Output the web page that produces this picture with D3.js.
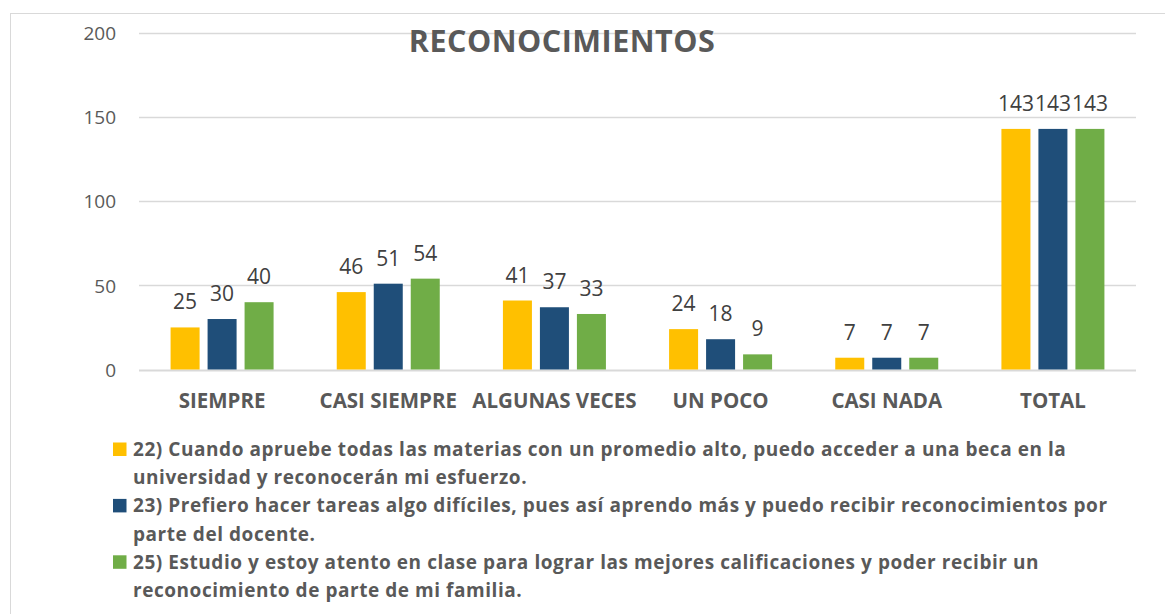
<!DOCTYPE html>
<html><head><meta charset="utf-8">
<script src="https://cdn.jsdelivr.net/npm/d3@7"></script>
<style>html,body{margin:0;padding:0;background:#fff;}svg{display:block;}</style>
</head><body>
<svg id="c" width="1165" height="614"></svg>
<script>
const categories = ["SIEMPRE","CASI SIEMPRE","ALGUNAS VECES","UN POCO","CASI NADA","TOTAL"];
const seriesNames = [
  "22) Cuando apruebe todas las materias con un promedio alto, puedo acceder a una beca en la|universidad y reconocerán mi esfuerzo.",
  "23) Prefiero hacer tareas algo difíciles, pues así aprendo más y puedo recibir reconocimientos por|parte del docente.",
  "25) Estudio y estoy atento en clase para lograr las mejores calificaciones y poder recibir un|reconocimiento de parte de mi familia."
];
const s22 = [25,46,41,24,7,143];
const s23 = [30,51,37,18,7,143];
const s25 = [40,54,33,9,7,143];
const yTicks = [0,50,100,150,200];
const colors = ["#FFC000","#1F4E79","#70AD47"];
const series = [s22,s23,s25];
const title = "RECONOCIMIENTOS";

const svg = d3.select("#c");
const font = "'Open Sans', sans-serif";
svg.append("rect").attr("x",10.5).attr("y",13.5).attr("width",1170).attr("height",620)
  .attr("fill","none").attr("stroke","#d9d9d9");

const x0 = d3.scaleBand().domain(categories).range([139,1136]);
const keys = [0,1,2];
const x1 = d3.scaleBand().domain(keys).range([0,103]).paddingInner(0.216);
const y = d3.scaleLinear().domain([0,200]).range([369.5,33]);
const off = (x0.bandwidth()-103)/2;

// gridlines
svg.append("g").selectAll("line").data(yTicks).join("line")
  .attr("x1",139).attr("x2",1136).attr("y1",d=>Math.round(y(d))+0.5).attr("y2",d=>Math.round(y(d))+0.5)
  .attr("stroke","#d9d9d9").attr("stroke-width",d=>d===0?2:1.5);

// y axis labels
const yAxis = d3.axisLeft(y).tickValues(yTicks).tickSize(0).tickPadding(0);
const ga = svg.append("g").attr("transform","translate(116,0)").call(yAxis);
ga.select(".domain").remove();
ga.selectAll("text").attr("font-family",font).attr("font-size",19).attr("fill","#595959").attr("dy","0.35em");

// title
svg.append("text").attr("x",562).attr("y",52).attr("text-anchor","middle")
  .attr("font-family",font).attr("font-weight","bold").attr("font-size",30.5).attr("letter-spacing",0.5)
  .attr("fill","#595959").text(title);

// bars
const g = svg.append("g");
categories.forEach((c,i)=>{
  keys.forEach(k=>{
    const v = series[k][i];
    const bx = x0(c)+off+x1(k);
    g.append("rect").attr("x",bx).attr("y",y(v)).attr("width",x1.bandwidth()).attr("height",y(0)-y(v))
      .attr("fill",colors[k]);
    g.append("text").attr("x",bx+x1.bandwidth()/2).attr("y",y(v)-18).attr("text-anchor","middle")
      .attr("font-family",font).attr("font-size",21).attr("fill","#404040").text(v);
  });
});

// x axis labels
const xAxis = d3.axisBottom(x0).tickSize(0).tickPadding(0);
const gx = svg.append("g").attr("transform","translate(0,408)").call(xAxis);
gx.select(".domain").remove();
gx.selectAll("text").attr("font-family",font).attr("font-weight","bold").attr("font-size",20.5).attr("fill","#595959").attr("dy",0).attr("y",0);

// legend
const lg = svg.append("g");
seriesNames.forEach((s,i)=>{
  const by = 456 + i*56.4;
  lg.append("rect").attr("x",113).attr("y",by-13.5).attr("width",13.5).attr("height",13.5).attr("fill",colors[i]);
  s.split("|").forEach((line,j)=>{
    lg.append("text").attr("x",133).attr("y",by+j*28.2).attr("font-family",font).attr("font-weight","bold")
      .attr("font-size",19).attr("letter-spacing",0.55).attr("fill","#595959").text(line);
  });
});
</script>
</body></html>
